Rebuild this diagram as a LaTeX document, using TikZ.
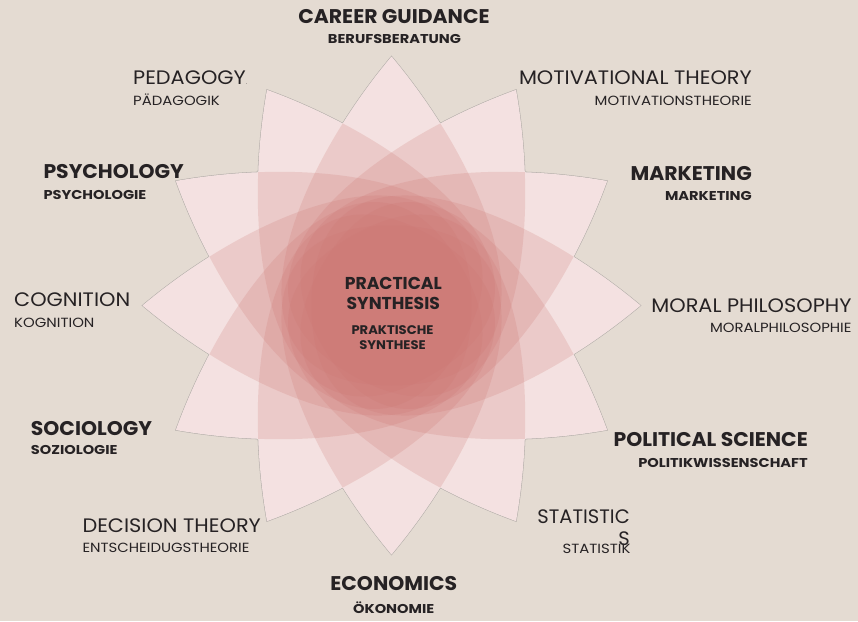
\documentclass[tikz,border=0pt]{standalone}
\usepackage{fontspec}
\setmainfont{Poppins}
\newfontfamily\bigboldfont[FakeStretch=1.03]{Poppins}
\newfontfamily\smallboldfont[FakeStretch=1.14]{Poppins}
\newfontfamily\bigregfont[FakeStretch=1.07]{Poppins}
\newfontfamily\smallregfont[FakeStretch=1.12]{Poppins}
\newfontfamily\ctrsmallfont[FakeStretch=1.05]{Poppins}
\definecolor{bg}{RGB}{228,219,210}
\definecolor{petalred}{RGB}{205,118,114}
\definecolor{edgegray}{RGB}{176,170,166}
\definecolor{txt}{RGB}{38,34,36}
\tikzset{
  bigbold/.style={font=\bigboldfont\bfseries\fontsize{19.8}{22}\selectfont, text=txt, inner sep=0pt},
  smallbold/.style={font=\smallboldfont\bfseries\fontsize{12.8}{15}\selectfont, text=txt, inner sep=0pt},
  bigreg/.style={font=\bigregfont\fontsize{19.5}{22.4}\selectfont, text=txt, inner sep=0pt},
  statreg/.style={font=\fontsize{19.5}{22.4}\selectfont, text=txt, inner sep=0pt},
  smallreg/.style={font=\smallregfont\fontsize{13.3}{15}\selectfont, text=txt, inner sep=0pt},
  centerbig/.style={font=\bfseries\fontsize{17.2}{20}\selectfont, text=txt, inner sep=0pt, align=center},
  centersmall/.style={font=\ctrsmallfont\bfseries\fontsize{12.5}{14.5}\selectfont, text=txt, inner sep=0pt, align=center},
}
\begin{document}
\begin{tikzpicture}[x=1pt,y=-1pt]
\fill[bg] (0,0) rectangle (858,621);
\useasboundingbox (0,0) rectangle (858,621);
\begin{scope}[shift={(391.5,305.5)}]
  % outlines (outer half stays visible)
  \foreach \a in {0,30,...,330}{
    \draw[edgegray, line width=1.1pt, rotate=\a]
      (249,0) .. controls (118.8,109.3) and (-80,180) .. (-80,0)
      .. controls (-80,-180) and (118.8,-109.3) .. (249,0) -- cycle;
  }
  % opaque white base
  \foreach \a in {0,30,...,330}{
    \fill[white, rotate=\a]
      (249,0) .. controls (118.8,109.3) and (-80,180) .. (-80,0)
      .. controls (-80,-180) and (118.8,-109.3) .. (249,0) -- cycle;
  }
  % translucent red layers
  \foreach \a in {0,30,...,330}{
    \fill[petalred, fill opacity=0.21, rotate=\a]
      (249,0) .. controls (118.8,109.3) and (-80,180) .. (-80,0)
      .. controls (-80,-180) and (118.8,-109.3) .. (249,0) -- cycle;
  }
\end{scope}

% centre
\node[centerbig] (c1) at (393.3,293.3) {PRACTICAL\\SYNTHESIS};
\node[centersmall] (c2) at (392.5,337.5) {PRAKTISCHE\\SYNTHESE};

% top
\node[bigbold] (career) at (394,17) {CAREER GUIDANCE};
\node[smallbold] (careerde) at (394.5,39) {BERUFSBERATUNG};
% bottom
\node[bigbold] (econ) at (393.8,584) {ECONOMICS};
\node[smallbold, anchor=south] (econde) at (393.7,614) {ÖKONOMIE};

% left side
\node[bigreg, anchor=west] (peda) at (133,77.3) {PEDAGOGY{\fontsize{5}{5}\selectfont.}};
\node[smallreg, anchor=south west] (pedade) at (133,106) {PÄDAGOGIK};
\node[bigbold, anchor=west] (psych) at (43.3,171.7) {PSYCHOLOGY};
\node[smallbold, anchor=west] (psychde) at (43.3,194.7) {PSYCHOLOGIE};
\node[bigreg, anchor=west] (cog) at (14,299.5) {COGNITION};
\node[smallreg, anchor=west] (cogde) at (14,323) {KOGNITION};
\node[bigbold, anchor=west] (soc) at (30.7,428.3) {SOCIOLOGY};
\node[smallbold, anchor=west] (socde) at (30.7,450.3) {SOZIOLOGIE};
\node[bigreg, anchor=west] (dec) at (82.3,525.3) {DECISION THEORY};
\node[smallreg, anchor=west] (decde) at (82.3,547.7) {ENTSCHEIDUGSTHEORIE};

% right side
\node[bigreg, anchor=east] (moti) at (752,78) {MOTIVATIONAL THEORY};
\node[smallreg, anchor=east] (motide) at (752,101) {MOTIVATIONSTHEORIE};
\node[bigbold, anchor=east] (mark) at (752,174) {MARKETING};
\node[smallbold, anchor=east] (markde) at (752,196) {MARKETING};
\node[bigreg, anchor=east] (moral) at (851.7,305.5) {MORAL PHILOSOPHY};
\node[smallreg, anchor=east] (moralde) at (851.7,328.3) {MORALPHILOSOPHIE};
\node[bigbold, anchor=east] (pol) at (808,440) {POLITICAL SCIENCE};
\node[smallbold, anchor=east] (polde) at (808,463) {POLITIKWISSENSCHAFT};
\node[statreg, anchor=north east, align=right] (stat) at (630,509.3) {STATISTIC\\S};
\node[smallreg, anchor=east] (statde) at (630.7,548.7) {STATISTIK};
\end{tikzpicture}
\end{document}
